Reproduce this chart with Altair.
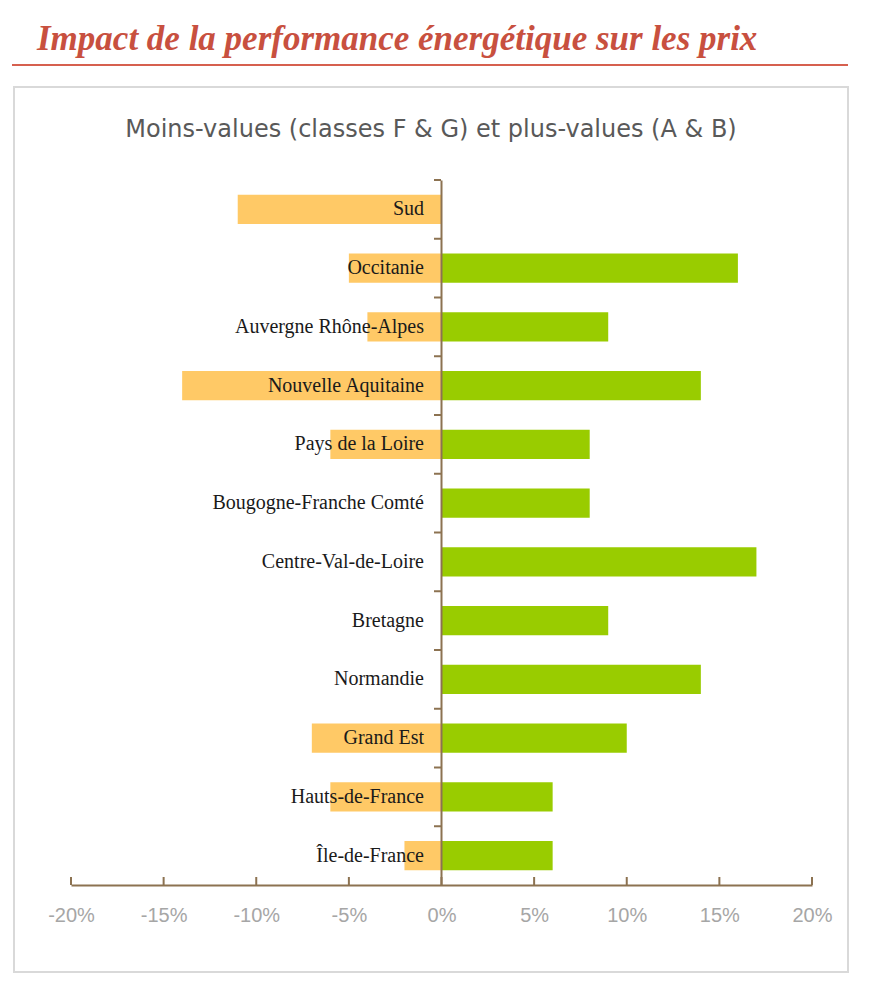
import altair as alt
import pandas as pd

regions = ["Sud", "Occitanie", "Auvergne Rhône-Alpes", "Nouvelle Aquitaine",
           "Pays de la Loire", "Bougogne-Franche Comté", "Centre-Val-de-Loire",
           "Bretagne", "Normandie", "Grand Est", "Hauts-de-France", "Île-de-France"]
moins_values = [-0.11, -0.05, -0.04, -0.14, -0.06, 0.0, 0.0, 0.0, 0.0, -0.07, -0.06, -0.02]
plus_values = [0.0, 0.16, 0.09, 0.14, 0.08, 0.08, 0.17, 0.09, 0.14, 0.10, 0.06, 0.06]
tick_values = [-0.20, -0.15, -0.10, -0.05, 0.0, 0.05, 0.10, 0.15, 0.20]

main_title = "Impact de la performance énergétique sur les prix"
chart_title = "Moins-values (classes F & G) et plus-values (A & B)"

W, H = 741, 705
PL, PT = 71, 180
BROWN = "#8C7251"
STEP = H / 12.0

rows = []
for r, m, p in zip(regions, moins_values, plus_values):
    rows.append({"region": r, "type": "moins", "value": m})
    rows.append({"region": r, "type": "plus", "value": p})
df = pd.DataFrame(rows)
lab_df = pd.DataFrame({"region": regions})
tick_df = pd.DataFrame({"t": tick_values})
one = pd.DataFrame({"a": [0]})

xscale = alt.Scale(domain=[-0.2, 0.2], nice=False)
yscale = alt.Scale(domain=regions, paddingInner=0.5, paddingOuter=0.25)

frame = alt.Chart(one).mark_rect(fillOpacity=0, stroke="#D9D9D9", strokeWidth=2).encode(
    x=alt.value(14 - PL), x2=alt.value(848 - PL),
    y=alt.value(87 - PT), y2=alt.value(972 - PT))

title_txt = alt.Chart(one).mark_text(
    text=main_title, align="left", baseline="middle", font="Liberation Serif",
    fontStyle="italic", fontWeight="bold", fontSize=35, color="#C8503F").encode(
    x=alt.value(37 - PL), y=alt.value(39 - PT))

title_line = alt.Chart(one).mark_rule(color="#D6604F", strokeWidth=2).encode(
    x=alt.value(12 - PL), x2=alt.value(848 - PL), y=alt.value(65 - PT))

sub_txt = alt.Chart(one).mark_text(
    text=chart_title, align="center", baseline="middle", font="DejaVu Sans",
    fontSize=24, color="#595959").encode(
    x=alt.value(431 - PL), y=alt.value(130 - PT))

bars = alt.Chart(df).mark_bar().encode(
    x=alt.X("value:Q", scale=xscale,
            axis=alt.Axis(values=tick_values, title=None, grid=False, ticks=False,
                          domainColor=BROWN, domainWidth=2, labelFlush=False,
                          labelOverlap=False,
                          labelExpr="round(datum.value*100) + '%'",
                          labelFont="Liberation Sans",
                          labelFontSize=20, labelColor="#A6A6A6", labelPadding=20)),
    y=alt.Y("region:N", scale=yscale, sort=regions,
            axis=alt.Axis(orient="left", offset=-370, labels=False, title=None,
                          domainColor=BROWN, domainWidth=2, ticks=False,
                          grid=False, zindex=1)),
    color=alt.Color("type:N", scale=alt.Scale(domain=["moins", "plus"],
                                              range=["#FFC966", "#99CC00"]),
                    legend=None),
)

xticks = alt.Chart(tick_df).mark_rule(color=BROWN, strokeWidth=2).encode(
    x=alt.X("t:Q", scale=xscale), y=alt.value(H - 8), y2=alt.value(H))

yticks = alt.Chart(lab_df).mark_rule(color=BROWN, strokeWidth=2, yOffset=-STEP / 2).encode(
    y=alt.Y("region:N", scale=yscale, sort=regions),
    x=alt.value(370 - 7), x2=alt.value(370))

labels = alt.Chart(lab_df).mark_text(
    align="right", baseline="middle", font="Liberation Serif", fontSize=20,
    color="#1A1A1A").encode(
    x=alt.value(424 - PL),
    y=alt.Y("region:N", scale=yscale, sort=regions),
    text="region:N")

chart = alt.layer(frame, title_txt, title_line, sub_txt, bars, xticks, yticks, labels).properties(
    width=W, height=H,
    autosize=alt.AutoSizeParams(type="none"),
    padding={"left": PL, "top": PT, "right": 876 - PL - W, "bottom": 986 - PT - H},
    background="white",
).configure_view(stroke=None)

chart.save("out.html", embed_options={"renderer": "svg", "actions": False})
